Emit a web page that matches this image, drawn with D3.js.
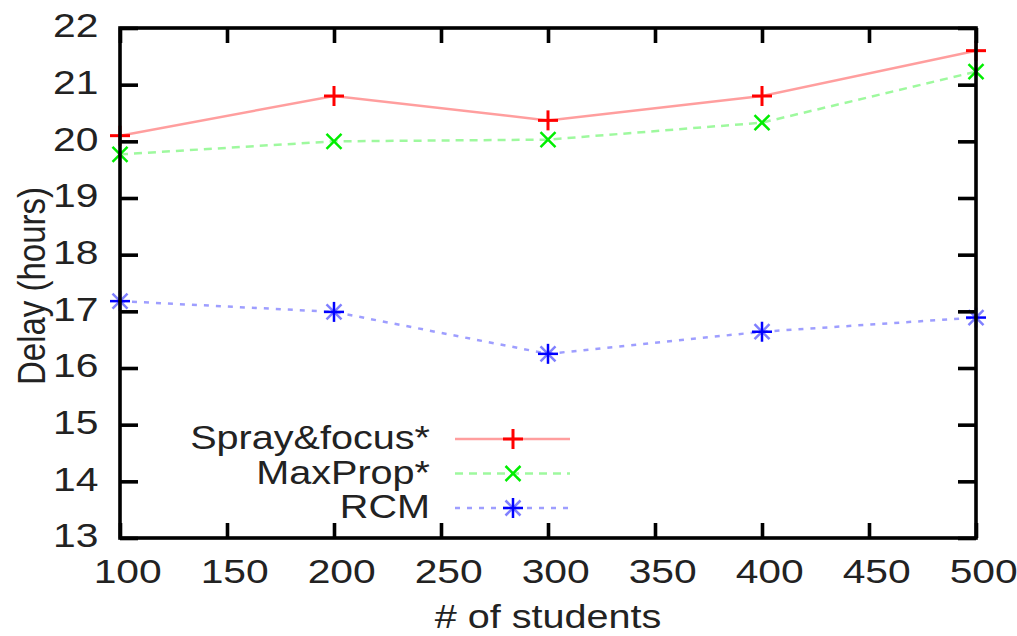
<!DOCTYPE html>
<html>
<head>
<meta charset="utf-8">
<script src="https://cdn.jsdelivr.net/npm/d3@7"></script>
<style>
  body { margin: 0; background: #fff; }
  text { font-family: "Liberation Sans", Arial, sans-serif; fill: #222; }
</style>
</head>
<body>
<div id="chart"></div>
<script>
const students = [100, 200, 300, 400, 500];
const sprayFocus = [20.1, 20.8, 20.37, 20.8, 21.6];
const maxProp = [19.77, 20.0, 20.03, 20.33, 21.23];
const rcm = [17.18, 16.99, 16.25, 16.64, 16.89];
const xTicks = [100, 150, 200, 250, 300, 350, 400, 450, 500];
const yTicks = [13, 14, 15, 16, 17, 18, 19, 20, 21, 22];

const series = [
  { name: "Spray&focus*", values: sprayFocus, color: "#ff0000", dash: null, mark: "plus" },
  { name: "MaxProp*", values: maxProp, color: "#00ee00", dash: "8,6", mark: "cross" },
  { name: "RCM", values: rcm, color: "#0000ff", dash: "5,7", mark: "star" }
];

// the original picture is stretched sideways a bit, so text is too
const SX = 1.2;

// canvas
let width = 1017, height = 636;
let svg = d3.select("#chart").append("svg")
  .attr("width", width).attr("height", height);

let x = d3.scaleLinear().domain([100, 500]).range([120, 976]);
let y = d3.scaleLinear().domain([13, 22]).range([538, 28]);

// put text at (px,py) and stretch it horizontally
function stretched(parent, px, py, str, size, anchor) {
  return parent.append("g")
    .attr("transform", `translate(${px},${py}) scale(${SX},1)`)
    .append("text")
    .attr("text-anchor", anchor || "start")
    .style("font-size", size + "px")
    .text(str);
}

// marker shapes, gnuplot style
function marker(g, type, color, cx, cy) {
  const r = 10;
  let segs = [];
  if (type === "plus" || type === "star") segs.push([-r, 0, r, 0], [0, -r, 0, r]);
  if (type === "cross" || type === "star") {
    const s = r * 0.75;
    segs.push([-s, -s, s, s], [-s, s, s, -s]);
  }
  segs.forEach(s => {
    g.append("line")
      .attr("x1", cx + s[0]).attr("y1", cy + s[1])
      .attr("x2", cx + s[2]).attr("y2", cy + s[3])
      .attr("stroke", color)
      .attr("stroke-width", type === "plus" ? 3 : 2.5)
      .attr("stroke-opacity", type === "star" && (s[0] !== 0 && s[1] !== 0) ? 0.5 : 1);
  });
}

// data lines
let line = d3.line().x((d, i) => x(students[i])).y(d => y(d));
series.forEach(s => {
  svg.append("path")
    .attr("d", line(s.values))
    .attr("fill", "none")
    .attr("stroke", s.color)
    .attr("stroke-opacity", 0.38)
    .attr("stroke-width", 2.5)
    .attr("stroke-dasharray", s.dash);
  let g = svg.append("g");
  s.values.forEach((v, i) => marker(g, s.mark, s.color, x(students[i]), y(v)));
});

// frame + ticks (mirrored on all sides, inward)
svg.append("rect")
  .attr("x", 120).attr("y", 28)
  .attr("width", 856).attr("height", 510)
  .attr("fill", "none").attr("stroke", "#000").attr("stroke-width", 3.6);

let gy = svg.append("g").attr("transform", "translate(120,0)")
  .call(d3.axisLeft(y).tickValues(yTicks).tickSize(-18).tickPadding(18));
let gy2 = svg.append("g").attr("transform", "translate(976,0)")
  .call(d3.axisRight(y).tickValues(yTicks).tickSize(-18).tickFormat(""));
let gx = svg.append("g").attr("transform", "translate(0,538)")
  .call(d3.axisBottom(x).tickValues(xTicks).tickSize(-15).tickPadding(21));
let gx2 = svg.append("g").attr("transform", "translate(0,28)")
  .call(d3.axisTop(x).tickValues(xTicks).tickSize(-15).tickFormat(""));

[gy, gy2, gx, gx2].forEach(g => {
  g.select(".domain").remove();
  g.selectAll(".tick line").attr("stroke", "#000").attr("stroke-width", 3.6);
  g.selectAll(".tick text")
    .style("font-family", "'Liberation Sans', Arial, sans-serif")
    .style("font-size", "34px").attr("fill", "#222")
    .attr("transform", `scale(${SX},1)`);
});
gy.selectAll(".tick text").attr("dy", "0.26em");
gx.selectAll(".tick text").attr("dx", "6");

// axis titles
svg.append("g")
  .attr("transform", "translate(45,286) rotate(-90)")
  .append("text")
  .attr("text-anchor", "middle")
  .style("font-size", "33px")
  .attr("transform", `scale(1,${SX})`)
  .text("Delay (hours)");
stretched(svg, 548, 628, "# of students", 33, "middle");

// legend
let legend = svg.append("g");
series.forEach((s, i) => {
  const ly = 439 + i * 34.5;
  stretched(legend, 430, ly + 10, s.name, 33, "end");
  legend.append("line")
    .attr("x1", 455).attr("x2", 570)
    .attr("y1", ly).attr("y2", ly)
    .attr("stroke", s.color).attr("stroke-opacity", 0.38)
    .attr("stroke-width", 2.5).attr("stroke-dasharray", s.dash);
  marker(legend, s.mark, s.color, 513, ly);
});
</script>
</body>
</html>
